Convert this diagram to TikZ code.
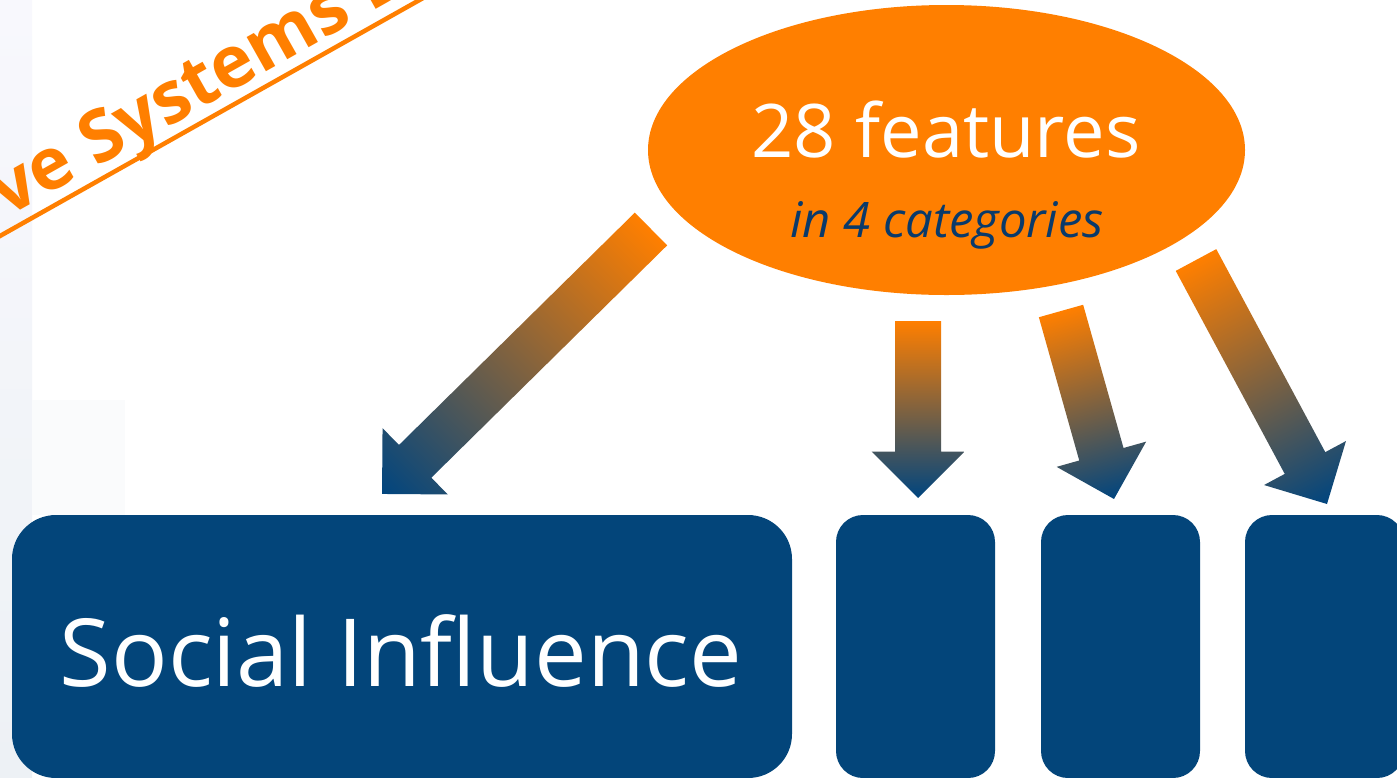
\documentclass[tikz,border=0pt]{standalone}
\usepackage{fontspec}
\setmainfont{Open Sans}
\usetikzlibrary{calc,shapes.geometric}
\definecolor{aorange}{HTML}{FF7F00}
\definecolor{boxblue}{HTML}{03457A}
\definecolor{tipblue}{HTML}{00457F}
\definecolor{catblue}{HTML}{0A3A6A}
\definecolor{sidetop}{HTML}{F8F8FD}
\definecolor{sidebot}{HTML}{EDF1F5}
\definecolor{sidebg2}{HTML}{FAFBFC}
\newcommand\blockarrow[2]{%
  \path let \p1=($(#2)-(#1)$) in \pgfextra{%
    \pgfmathsetmacro\tmpang{atan2(\y1,\x1)}\xdef\baAng{\tmpang}%
    \pgfmathsetmacro\tmplen{veclen(\x1,\y1)}\xdef\baLen{\tmplen}};
  \begin{scope}[transform canvas={shift={(#1)},rotate=\baAng}]
    \shade[left color=aorange,right color=tipblue]
      (0,-23)--({\baLen-46.5},-23)--({\baLen-46.5},-46.5)--(\baLen,0)
      --({\baLen-46.5},46.5)--({\baLen-46.5},23)--(0,23)--cycle;
  \end{scope}}
\tikzset{
  catbox/.style={draw=none,fill=boxblue,rectangle,inner sep=0,rounded corners=27pt,
    minimum width=159pt,minimum height=263pt},
  bigtext/.style={text=white,inner sep=0,anchor=base}
}
\begin{document}
\begin{tikzpicture}[x=1pt,y=-1pt]
\clip (0,0) rectangle (1397,777);
\fill[white] (0,0) rectangle (1397,777);
% faint background on the left
\shade[top color=sidetop,bottom color=sidebot] (0,0) rectangle (32,777);
\fill[sidebg2] (32,400) rectangle (125,515);
% title fragment
\coordinate (ul1) at (-10,241.6);
\coordinate (ul2) at (440,-11.5);
\draw[aorange,line width=4.5pt] (ul1) -- (ul2);
\node[font=\bfseries\fontsize{72}{80}\selectfont,text=aorange,rotate=29.4,anchor=base west,inner sep=0] (ttl) at (7,218) {ve Systems D};
% ellipse
\node[ellipse,fill=aorange,draw=none,inner sep=0,minimum width=597pt,minimum height=290pt] (feat) at (946.5,150) {};
\node[bigtext,font=\fontsize{74}{80}\selectfont] (t28) at (946,157) {28 features};
\node[text=catblue,inner sep=0,anchor=base,font=\fontsize{49}{54}\selectfont\itshape] (t4) at (947,237) {in 4 categories};
% boxes
\node[catbox,rounded corners=44pt,minimum width=780pt] (social) at (402,646.5) {};
\node[bigtext,font=\fontsize{94}{100}\selectfont] (si) at (401,686) {Social Influence};
\node[catbox] (cat2) at (915.5,646.5) {};
\node[catbox] (cat3) at (1120.5,646.5) {};
\node[catbox] (cat4) at (1324.5,646.5) {};
% arrows
\coordinate (a1t) at (651,229);
\coordinate (a1h) at (382,494);
\coordinate (a2t) at (918,321);
\coordinate (a2h) at (918,498);
\coordinate (a3t) at (1061,311);
\coordinate (a3h) at (1114,499);
\coordinate (a4t) at (1196,260);
\coordinate (a4h) at (1327,504);
\blockarrow{a1t}{a1h}
\blockarrow{a2t}{a2h}
\blockarrow{a3t}{a3h}
\blockarrow{a4t}{a4h}
\end{tikzpicture}
\end{document}
